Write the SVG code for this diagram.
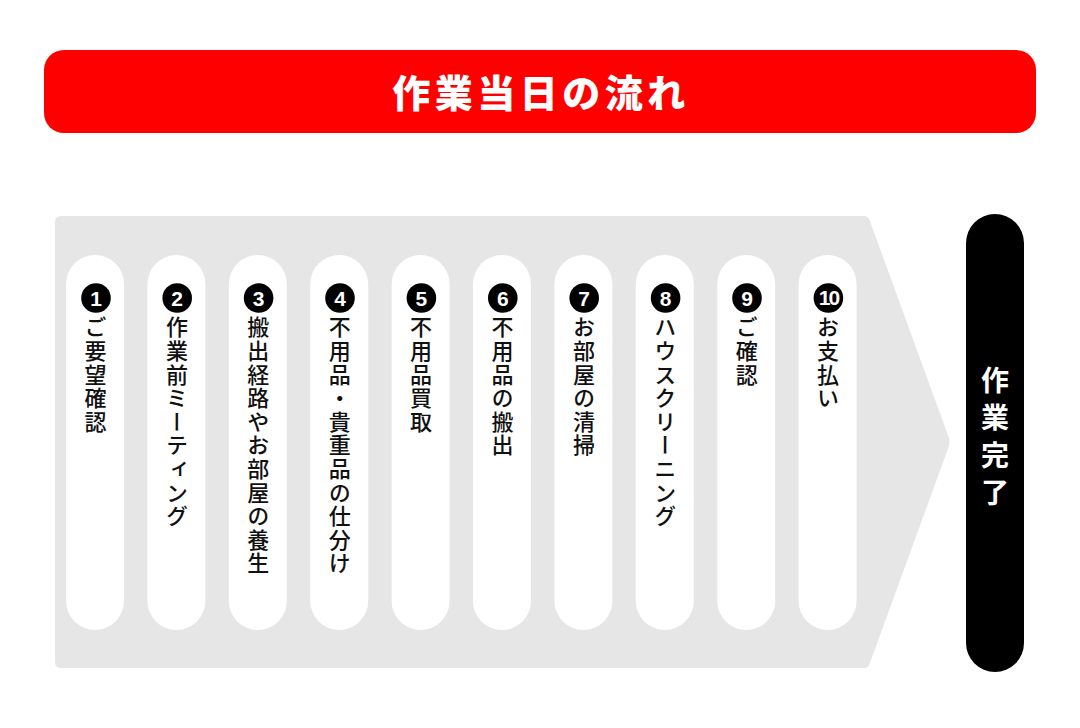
<svg xmlns="http://www.w3.org/2000/svg" width="1080" height="728" viewBox="0 0 1080 728">
<style>
.vt{font-family:"Noto Sans CJK JP","Noto Sans CJK SC",sans-serif;font-size:22px;font-weight:500;fill:#111;writing-mode:vertical-rl;letter-spacing:1.6px}
.pill{fill:#fff}
.num{fill:#000}
.nt{font-family:"Liberation Sans","Noto Sans",sans-serif;font-weight:bold;font-size:21px;fill:#fff;text-anchor:middle}
</style>
<rect width="1080" height="728" fill="#fff"/>
<g id="header">
<rect x="44" y="50" width="992" height="83" rx="20" fill="#ff0000"/>
<text x="541" y="107" text-anchor="middle" font-family="Noto Sans CJK JP, Noto Sans CJK SC, sans-serif" font-weight="900" font-size="38" letter-spacing="4.5" fill="#fff">作業当日の流れ</text>
</g>
<g id="flow-arrow">
<path d="M61 216 H864 Q868 216 869.5 220 L949 438 Q950 442 949 446 L869.5 664 Q868 668 864 668 H61 Q55 668 55 662 V222 Q55 216 61 216 Z" fill="#e6e6e6"/>
</g>
<g id="step1"><rect class="pill" x="66" y="255" width="58" height="375" rx="29"/><circle class="num" cx="96" cy="298" r="14.8"/><text class="nt" x="96" y="305.5">1</text><text class="vt" x="95.5" y="316">ご要望確認</text></g>
<g id="step2"><rect class="pill" x="147.4" y="255" width="58" height="375" rx="29"/><circle class="num" cx="177.2" cy="298" r="14.8"/><text class="nt" x="177.2" y="305.5">2</text><text class="vt" x="176.9" y="316">作業前ミーティング</text></g>
<g id="step3"><rect class="pill" x="228.8" y="255" width="58" height="375" rx="29"/><circle class="num" cx="258.6" cy="298" r="14.8"/><text class="nt" x="258.6" y="305.5">3</text><text class="vt" x="258.3" y="316">搬出経路やお部屋の養生</text></g>
<g id="step4"><rect class="pill" x="310.2" y="255" width="58" height="375" rx="29"/><circle class="num" cx="340" cy="298" r="14.8"/><text class="nt" x="340" y="305.5">4</text><text class="vt" x="339.7" y="316" letter-spacing="0.6">不用品・貴重品の仕分け</text></g>
<g id="step5"><rect class="pill" x="391.6" y="255" width="58" height="375" rx="29"/><circle class="num" cx="421.4" cy="298" r="14.8"/><text class="nt" x="421.4" y="305.5">5</text><text class="vt" x="421.1" y="316">不用品買取</text></g>
<g id="step6"><rect class="pill" x="473" y="255" width="58" height="375" rx="29"/><circle class="num" cx="502.8" cy="298" r="14.8"/><text class="nt" x="502.8" y="305.5">6</text><text class="vt" x="502.5" y="316">不用品の搬出</text></g>
<g id="step7"><rect class="pill" x="554.4" y="255" width="58" height="375" rx="29"/><circle class="num" cx="584.2" cy="298" r="14.8"/><text class="nt" x="584.2" y="305.5">7</text><text class="vt" x="583.9" y="316">お部屋の清掃</text></g>
<g id="step8"><rect class="pill" x="635.8" y="255" width="58" height="375" rx="29"/><circle class="num" cx="665.6" cy="298" r="14.8"/><text class="nt" x="665.6" y="305.5">8</text><text class="vt" x="665.3" y="316" letter-spacing="0.6">ハウスクリーニング</text></g>
<g id="step9"><rect class="pill" x="717.2" y="255" width="58" height="375" rx="29"/><circle class="num" cx="747" cy="298" r="14.8"/><text class="nt" x="747" y="305.5">9</text><text class="vt" x="746.7" y="316">ご確認</text></g>
<g id="step10"><rect class="pill" x="798.6" y="255" width="58" height="375" rx="29"/><circle class="num" cx="828.4" cy="298" r="14.8"/><text class="nt" x="828.4" y="305" font-size="19" letter-spacing="-2">10</text><text class="vt" x="828.1" y="316">お支払い</text></g>
<g id="complete">
<rect x="966" y="214" width="58" height="458" rx="29" fill="#000"/>
<text x="995" y="366" font-family="Noto Sans CJK JP, Noto Sans CJK SC, sans-serif" font-weight="bold" font-size="28" letter-spacing="9.5" fill="#fff" style="writing-mode:vertical-rl">作業完了</text>
</g>
<g id="connectors"></g>
</svg>
